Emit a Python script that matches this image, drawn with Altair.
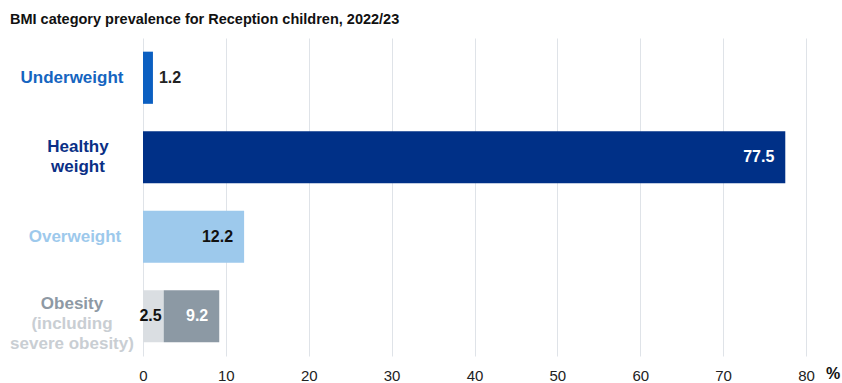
import altair as alt
import pandas as pd

# ---- data ----
categories = ["Underweight", "Healthy weight", "Overweight", "Obesity"]
prevalence = [1.2, 77.5, 12.2, 9.2]
severe_obesity = 2.5
x_ticks = [0, 10, 20, 30, 40, 50, 60, 70, 80]
title_text = "BMI category prevalence for Reception children, 2022/23"
unit_text = "%"

# ---- styles ----
FONT = "Liberation Sans"
bar_colors = {"Underweight": "#0b5fc1", "Healthy weight": "#003087",
              "Overweight": "#9dc9ec", "Obesity": "#8c99a4", "Severe": "#dadee2"}
label_colors = {"Underweight": "#1565c0", "Healthy weight": "#0a2f86",
                "Overweight": "#9dc9ec", "Obesity": "#8e99a4"}

# bar segments
rows = []
for c, v in zip(categories, prevalence):
    if c == "Obesity":
        rows.append({"category": c, "start": 0, "end": severe_obesity, "color": bar_colors["Severe"]})
        rows.append({"category": c, "start": severe_obesity, "end": v, "color": bar_colors[c]})
    else:
        rows.append({"category": c, "start": 0, "end": v, "color": bar_colors[c]})
bars_df = pd.DataFrame(rows)

# value labels
vals = pd.DataFrame({"category": categories, "start": prevalence})
vals["text"] = vals["start"].map(lambda v: f"{v:.1f}")
sev_df = pd.DataFrame({"category": ["Obesity"], "start": [severe_obesity],
                       "text": [f"{severe_obesity:.1f}"]})

yscale = alt.Scale(paddingInner=0.344, paddingOuter=0.172)
Y = alt.Y("category:N", sort=categories, scale=yscale, axis=None)
xaxis = alt.Axis(values=x_ticks, grid=True, gridColor="#dfe3e8", gridWidth=1,
                 domain=False, ticks=False, labelFontSize=15, labelPadding=12,
                 labelFlush=False, labelColor="#222222", labelFont=FONT, title=None)
X = alt.X("start:Q", scale=alt.Scale(domain=[0, 80], nice=False), axis=xaxis)

bars = alt.Chart(bars_df).mark_bar().encode(
    x=X, x2="end:Q", y=Y, color=alt.Color("color:N", scale=None))

def vlabel(df, align, dx, color):
    return alt.Chart(df).mark_text(align=align, baseline="middle", dx=dx, font=FONT,
                                   fontSize=16, fontWeight="bold", color=color).encode(
        x=X, y=Y, text="text:N")

out_lbl = vlabel(vals[vals.category == "Underweight"], "left", 6, "#222222")
white_lbl = vlabel(vals[vals.category.isin(["Healthy weight", "Obesity"])], "right", -11, "#ffffff")
dark_lbl = vlabel(vals[vals.category == "Overweight"], "right", -11, "#111111")
sev_lbl = vlabel(sev_df, "right", -2, "#111111")

# category labels
def clabel(cat, text, dy, color, x=-70):
    return alt.Chart(pd.DataFrame({"category": [cat], "text": [text]})).mark_text(
        align="center", baseline="middle", font=FONT, fontSize=17, fontWeight="bold",
        lineBreak="\n", lineHeight=20, dy=dy, color=color).encode(
        x=alt.value(x), y=Y, text="text:N")

c1 = clabel("Underweight", "Underweight", 0, label_colors["Underweight"], -71)
c2 = clabel("Healthy weight", "Healthy\nweight", -10, label_colors["Healthy weight"], -65)
c3 = clabel("Overweight", "Overweight", 0, label_colors["Overweight"], -68)
c4 = clabel("Obesity", "Obesity", -12, label_colors["Obesity"], -71)
c5 = clabel("Obesity", "(including\nsevere obesity)", 8, "#c9ced3", -71)

title = alt.Chart(pd.DataFrame({"t": [title_text]})).mark_text(
    align="left", baseline="alphabetic", font=FONT, fontSize=14.5, fontWeight="bold",
    color="#111111").encode(x=alt.value(-133), y=alt.value(-14), text="t:N")

unit = alt.Chart(pd.DataFrame({"t": [unit_text]})).mark_text(
    align="center", baseline="alphabetic", font=FONT, fontSize=16, fontWeight="bold",
    color="#111111").encode(x=alt.value(690), y=alt.value(341), text="t:N")

chart = alt.layer(bars, out_lbl, white_lbl, dark_lbl, sev_lbl, c1, c2, c3, c4, c5, title, unit).properties(
    width=663, height=318,
    autosize=alt.AutoSizeParams(type="none"),
    padding={"left": 143, "top": 38, "right": 36, "bottom": 27},
).configure(background="#ffffff").configure_view(stroke=None)

chart.save("out.html", embed_options={"renderer": "svg", "actions": False})
